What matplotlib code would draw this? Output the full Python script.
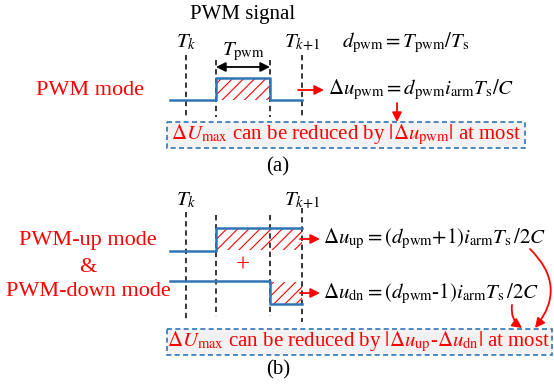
import matplotlib
matplotlib.use('Agg')
import matplotlib.pyplot as plt
from matplotlib.patches import Rectangle, FancyArrowPatch

plt.rcParams['hatch.linewidth'] = 0.8

blue = '#2E75B6'
red = '#FF0000'
serif = 'Liberation Serif'

# time marks (pixel x): T_k, rising edge, falling edge, T_k+1
marks = [186, 216, 270, 302]
x_start = 170

# (a) PWM waveform
sig_a_x = [x_start, 216, 216, 270, 270, 302]
sig_a_y = [100, 100, 78, 78, 100, 100]
# (b) PWM-up and PWM-down waveforms
up_x = [x_start, 216, 216, 302]
up_y = [251, 251, 228, 228]
dn_x = [x_start, 270, 270, 302]
dn_y = [281, 281, 304, 304]

fig = plt.figure(figsize=(5.54, 3.92), dpi=100)
ax = fig.add_axes([0, 0, 1, 1])
ax.set_xlim(0, 554)
ax.set_ylim(392, 0)
ax.axis('off')


def label(x, y, s, size=15, color='black', ha='center'):
    ax.text(x, y, s, fontsize=size, color=color, ha=ha, va='center',
            family=serif, math_fontfamily='stix')


def arrow(p0, p1, color=red, style='-|>'):
    ax.annotate('', xy=p1, xytext=p0,
                arrowprops=dict(arrowstyle=style, color=color, lw=1.3,
                                mutation_scale=14, shrinkA=0, shrinkB=0))


def hatch_box(x, y, w, h):
    r = Rectangle((x, y), w, h, fill=False, hatch='///', edgecolor=red, lw=0)
    ax.add_patch(r)


# ---------------- (a) ----------------
label(243, 14, 'PWM signal')
label(90, 90, 'PWM mode', size=16, color=red)

dash_a = [(marks[0], 55), (marks[1], 60), (marks[2], 60), (marks[3], 55)]
for x, y0 in dash_a:
    ax.plot([x, x], [y0, 117], ls=(0, (3.5, 2.5)), color='black', lw=1.1)

hatch_box(216, 78, 54, 22)
ax.plot(sig_a_x, sig_a_y, color=blue, lw=1.8)

arrow((270, 67), (216, 67), color='black', style='<|-|>')
label(243, 52, r'$T_{\mathrm{pwm}}$')
label(186, 42, r'$T_k$')
label(302, 42, r'$T_{k\!+\!1}$')
label(342, 43, r'$d_{\mathrm{pwm}}=T_{\mathrm{pwm}}/T_{\mathrm{s}}$', ha='left')

arrow((298, 90), (324, 90))
label(328, 90, r'$\Delta u_{\mathrm{pwm}}=d_{\mathrm{pwm}}i_{\mathrm{arm}}T_{\mathrm{s}}/C$',
      ha='left')
arrow((397, 103), (397, 122))

ax.add_patch(Rectangle((167, 122), 358, 26, facecolor='#F2F2F2',
                       edgecolor=blue, lw=1.2, ls=(0, (3, 2))))
label(346, 135,
      r'$\Delta U_{\mathrm{max}}$ can be reduced by $|\Delta u_{\mathrm{pwm}}|$ at most',
      color=red)
label(278, 167, '(a)')

# ---------------- (b) ----------------
label(88, 240, 'PWM-up mode', size=16, color=red)
label(88, 267, '&', size=16, color=red)
label(88, 292, 'PWM-down mode', size=16, color=red)

dash_b = [(marks[0], 212), (marks[1], 215), (marks[2], 215), (marks[3], 208)]
dash_b_end = [322, 316, 316, 322]
for (x, y0), y1 in zip(dash_b, dash_b_end):
    ax.plot([x, x], [y0, y1], ls=(0, (3.5, 2.5)), color='black', lw=1.1)

hatch_box(216, 228, 86, 22)
hatch_box(270, 282, 32, 22)
ax.plot(up_x, up_y, color=blue, lw=1.8)
ax.plot(dn_x, dn_y, color=blue, lw=1.8)
label(243, 266, '+', size=18, color=red)

label(186, 200, r'$T_k$')
label(302, 200, r'$T_{k\!+\!1}$')

for y in [239, 293]:
    arrow((300, y), (320, y))
label(323, 239,
      r'$\Delta u_{\mathrm{up}}=(d_{\mathrm{pwm}}{+}1)i_{\mathrm{arm}}T_{\mathrm{s}}\,/2C$',
      ha='left')
label(323, 294,
      r'$\Delta u_{\mathrm{dn}}=(d_{\mathrm{pwm}}$-$1)i_{\mathrm{arm}}T_{\mathrm{s}}\,/2C$',
      ha='left')

ax.add_patch(FancyArrowPatch((530, 249), (535, 328),
                             connectionstyle='arc3,rad=-0.45',
                             arrowstyle='-|>', mutation_scale=14,
                             color=red, lw=1.3, shrinkA=0, shrinkB=0))
ax.add_patch(FancyArrowPatch((512, 305), (522, 328),
                             connectionstyle='arc3,rad=0.3',
                             arrowstyle='-|>', mutation_scale=14,
                             color=red, lw=1.3, shrinkA=0, shrinkB=0))

ax.add_patch(Rectangle((167, 329), 385, 26, facecolor='#F2F2F2',
                       edgecolor=blue, lw=1.2, ls=(0, (3, 2))))
label(359, 342,
      r'$\Delta U_{\mathrm{max}}$ can be reduced by $|\Delta u_{\mathrm{up}}$-$\Delta u_{\mathrm{dn}}|$ at most',
      color=red)
label(278, 370, '(b)')

fig.savefig('out.png', dpi=100)
